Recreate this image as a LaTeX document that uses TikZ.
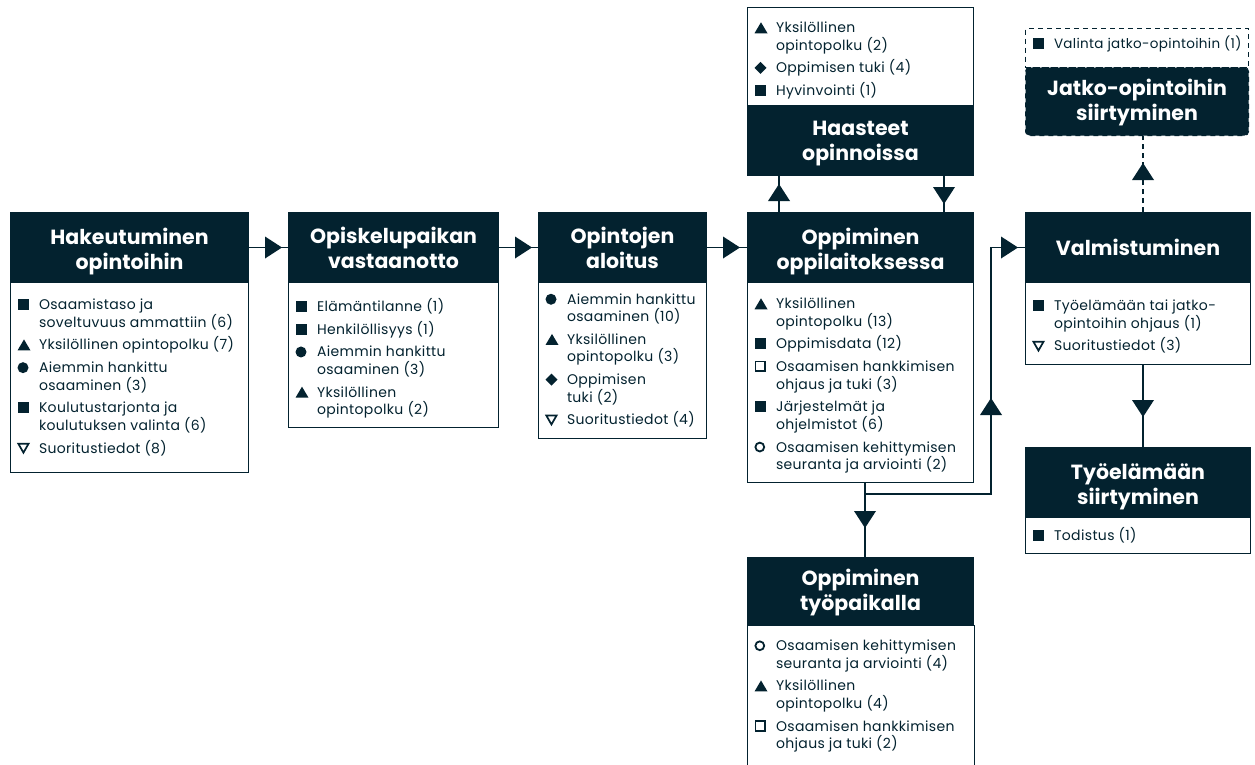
\documentclass[tikz,border=0pt]{standalone}
\usepackage{fontspec}
\setmainfont{Poppins}
\newfontfamily\lstfont[LetterSpace=2.5]{Poppins}
\usetikzlibrary{arrows.meta,decorations.markings}
\definecolor{dk}{HTML}{03222F}
\newcommand\bSq{\tikz[x=1pt,y=1pt,baseline=0pt]\fill[dk](0,-0.5) rectangle (11,10.5);}
\newcommand\bTri{\tikz[x=1pt,y=1pt,baseline=0pt]\fill[dk](0,-0.5)--(13,-0.5)--(6.5,10.5)--cycle;}
\newcommand\bCir{\tikz[x=1pt,y=1pt,baseline=0pt]\fill[dk](5.5,5) circle (5.5);}
\newcommand\bDia{\tikz[x=1pt,y=1pt,baseline=0pt]\fill[dk](6,-1)--(12,5)--(6,11)--(0,5)--cycle;}
\newcommand\bDtri{\tikz[x=1pt,y=1pt,baseline=0pt]\draw[dk,solid,line width=1.7pt,line join=miter](0.9,9.3)--(11.1,9.3)--(6,0.4)--cycle;}
\newcommand\bOsq{\tikz[x=1pt,y=1pt,baseline=0pt]\draw[dk,solid,line width=1.8pt](0.9,0.4) rectangle (10.6,10.1);}
\newcommand\bOcir{\tikz[x=1pt,y=1pt,baseline=0pt]\draw[dk,solid,line width=1.8pt](5.5,5) circle (4.4);}
\newcommand\itm[2]{\noindent\hangindent=21.5pt\hangafter=1\makebox[21.5pt][l]{#1}\strut#2\strut\par\vspace{5.2pt}}
\newcommand\lst[4]{\hspace*{7pt}\parbox[c][#1pt][t]{\dimexpr#2pt-7pt\relax}{\lineskiplimit=-100pt\vspace*{#3pt}#4}}
\newcommand\hd[4]{\parbox[c][#1pt][t]{#2pt}{\centering\vspace*{#3pt}\rule{0pt}{20pt}#4}}
\tikzset{
  hdr/.style={fill=dk, draw=dk, line width=1pt, text=white, font=\fontsize{20.5}{25}\selectfont\bfseries,
    anchor=north west, inner sep=0pt},
  lbox/.style={draw=dk, fill=white, line width=1pt, anchor=north west, inner sep=0pt, text=dk,
    font=\lstfont\fontsize{14}{17.5}\selectfont},
  conn/.style={draw=dk, color=dk, line width=1.2pt},
  tri/.style={postaction={decorate}, decoration={markings,
    mark=at position #1 with {\fill[dk,solid] (-17pt,-11pt)--(0pt,0pt)--(-17pt,11pt)--cycle;}}},
  dsh/.style={dash pattern=on 5pt off 4pt},
}
\begin{document}
\begin{tikzpicture}[x=1pt,y=-1pt]
\useasboundingbox[fill=white] (0,0) rectangle (1255,764);

% Hakeutuminen opintoihin
\node[lbox] (l1) at (10,282) {\lst{190}{238}{15}{%
\itm\bSq{Osaamistaso ja\\soveltuvuus ammattiin (6)}%
\itm\bTri{Yksilöllinen opintopolku (7)}%
\itm\bCir{Aiemmin hankittu\\osaaminen (3)}%
\itm\bSq{Koulutustarjonta ja\\koulutuksen valinta (6)}%
\itm\bDtri{Suoritustiedot (8)}}};
\node[hdr] (h1) at (10,212) {\hd{70}{238}{12}{Hakeutuminen\\opintoihin}};

% Opiskelupaikan vastaanotto
\node[lbox] (l2) at (288,282) {\lst{145}{210}{16}{%
\itm\bSq{Elämäntilanne (1)}%
\itm\bSq{Henkilöllisyys (1)}%
\itm\bCir{Aiemmin hankittu\\osaaminen (3)}%
\itm\bTri{Yksilöllinen\\opintopolku (2)}}};
\node[hdr] (h2) at (288,212) {\hd{70}{210}{11}{Opiskelupaikan\\vastaanotto}};

% Opintojen aloitus
\node[lbox] (l3) at (538,282) {\lst{156}{168}{9.5}{%
\itm\bCir{Aiemmin hankittu\\osaaminen (10)}%
\itm\bTri{Yksilöllinen\\opintopolku (3)}%
\itm\bDia{Oppimisen\\tuki (2)}%
\itm\bDtri{Suoritustiedot (4)}}};
\node[hdr] (h3) at (538,212) {\hd{70}{168}{11}{Opintojen\\aloitus}};

% Oppiminen oppilaitoksessa
\node[lbox] (l4) at (747,282) {\lst{200}{226}{14}{%
\itm\bTri{Yksilöllinen\\opintopolku (13)}%
\itm\bSq{Oppimisdata (12)}%
\itm\bOsq{Osaamisen hankkimisen\\ohjaus ja tuki (3)}%
\itm\bSq{Järjestelmät ja\\ohjelmistot (6)}%
\itm\bOcir{Osaamisen kehittymisen\\seuranta ja arviointi (2)}}};
\node[hdr] (h4) at (747,212) {\hd{70}{226}{12}{Oppiminen\\oppilaitoksessa}};

% Haasteet opinnoissa
\node[lbox] (lh) at (747,7) {\lst{98}{226}{13}{%
\itm\bTri{Yksilöllinen\\opintopolku (2)}%
\itm\bDia{Oppimisen tuki (4)}%
\itm\bSq{Hyvinvointi (1)}}};
\node[hdr] (hh) at (747,105) {\hd{70}{226}{10}{Haasteet\\opinnoissa}};

% Jatko-opintoihin siirtyminen
\node[lbox, dsh, font=\lstfont\fontsize{13.5}{17.5}\selectfont] (lj) at (1025,28) {\lst{39}{223}{7}{%
\itm\bSq{Valinta jatko-opintoihin (1)}}};
\node[hdr, dsh, rounded corners=4pt] (hj) at (1025,67) {\hd{68}{223}{8}{Jatko-opintoihin\\siirtyminen}};

% Valmistuminen
\node[lbox] (lv) at (1025,282) {\lst{82}{225}{16}{%
\itm\bSq{Työelämään tai jatko-\\opintoihin ohjaus (1)}%
\itm\bDtri{Suoritustiedot (3)}}};
\node[hdr] (hv) at (1025,212) {\hd{70}{225}{23}{Valmistuminen}};

% Työelämään siirtyminen
\node[lbox] (lt) at (1025,517) {\lst{36}{225}{10}{%
\itm\bSq{Todistus (1)}}};
\node[hdr] (ht) at (1025,447) {\hd{70}{225}{12}{Työelämään\\siirtyminen}};

% Oppiminen työpaikalla (open at the bottom)
\node[lbox, draw=none] (lw) at (747,625) {\lst{139}{226}{13}{%
\itm\bOcir{Osaamisen kehittymisen\\seuranta ja arviointi (4)}%
\itm\bTri{Yksilöllinen\\opintopolku (4)}%
\itm\bOsq{Osaamisen hankkimisen\\ohjaus ja tuki (2)}}};
\draw[dk, line width=1pt] (lw.south west) -- (lw.north west);
\draw[dk, line width=1pt] (lw.south east) -- (lw.north east);
\node[hdr] (hw) at (747,557) {\hd{68}{226}{8}{Oppiminen\\työpaikalla}};

% connectors
\draw[conn, tri=-6pt] (h1.east) -- (h2.west);
\draw[conn, tri=-6pt] (h2.east) -- (h3.west);
\draw[conn, tri=-7pt] (h3.east) -- (h4.west);
\draw[conn, tri=-8pt] ([xshift=32pt]h4.north west) -- ([xshift=32pt]hh.south west);
\draw[conn, tri=-8pt] ([xshift=197pt]hh.south west) -- ([xshift=197pt]h4.north west);
\draw[conn, dsh, tri=-27pt] ([xshift=118pt]hv.north west) -- ([xshift=118pt]hv.north west |- hj.south);
\draw[conn, tri=-30pt] ([xshift=118pt]lv.south west) -- ([xshift=118pt]ht.north west);
\coordinate (s) at ([xshift=118pt]l4.south west);
\coordinate (k1) at (991,494);
\draw[conn, tri=-29pt] (s) -- (s |- hw.north);
\draw[conn, postaction={decorate}, decoration={markings,
    mark=at position 233pt with {\fill[dk] (-17pt,-11pt)--(0pt,0pt)--(-17pt,11pt)--cycle;},
    mark=at position -7pt with {\fill[dk] (-17pt,-11pt)--(0pt,0pt)--(-17pt,11pt)--cycle;}}]
  (s) |- (k1) |- (hv.west);
\end{tikzpicture}
\end{document}
